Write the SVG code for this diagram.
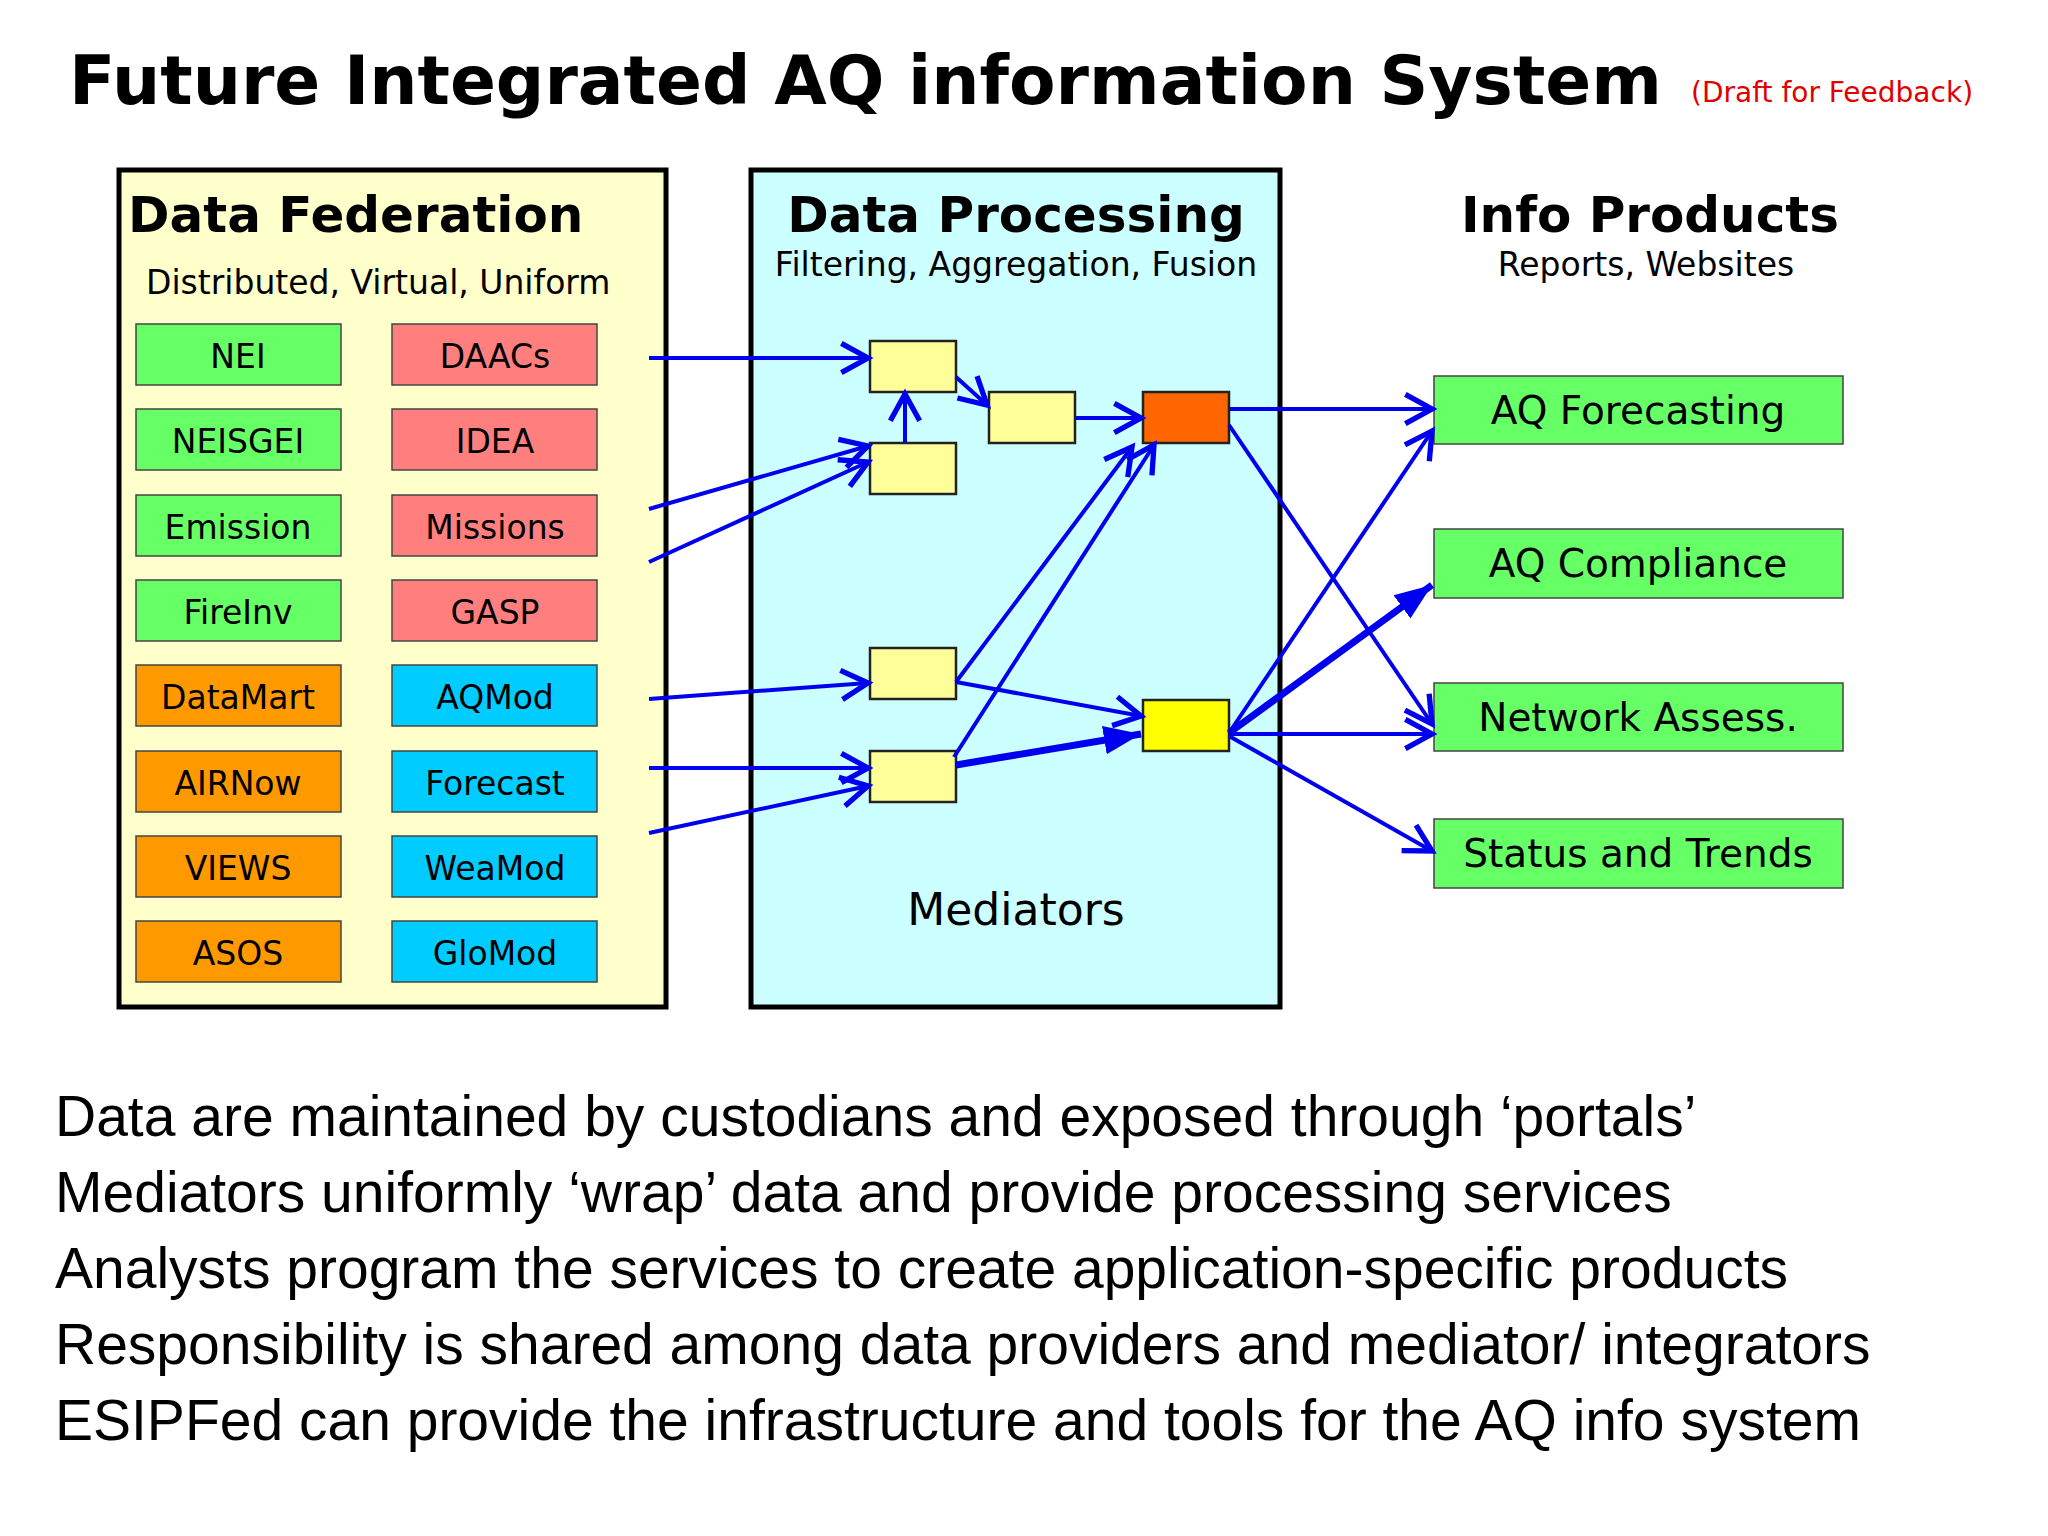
<svg xmlns="http://www.w3.org/2000/svg" width="2048" height="1536" viewBox="0 0 2048 1536">
<style>
.h{font-family:"DejaVu Sans",Verdana,sans-serif;font-weight:bold;fill:#000}
.s{font-family:"DejaVu Sans",Verdana,sans-serif;fill:#000}
.n{stroke:#444;stroke-width:1.5}
.g{fill:#66FF66}.r{fill:#FF7F7F}.o{fill:#FF9900}.c{fill:#00CCFF}
.lbl{font-family:"DejaVu Sans",Verdana,sans-serif;font-size:33px;text-anchor:middle;fill:#000}
.out{font-family:"DejaVu Sans",Verdana,sans-serif;font-size:39px;text-anchor:middle;fill:#000}
.m{fill:#FFFF99;stroke:#222;stroke-width:2.5}
.a{stroke:#0000EE;stroke-width:4;fill:none;marker-end:url(#op)}
.t{stroke:#0000EE;stroke-width:7;fill:none;marker-end:url(#fl)}
.b{font-family:"Liberation Sans",Arial,sans-serif;font-size:57px;fill:#000}
</style>
<defs>
<marker id="op" markerUnits="userSpaceOnUse" markerWidth="40" markerHeight="40" refX="24" refY="14" orient="auto" viewBox="0 0 30 28"><path d="M4,3 L24,14 L4,25" fill="none" stroke="#0000EE" stroke-width="4"/></marker>
<marker id="fl" markerUnits="userSpaceOnUse" markerWidth="40" markerHeight="40" refX="26" refY="12" orient="auto" viewBox="0 0 28 24"><path d="M0,2 L26,12 L0,22 Z" fill="#0000EE"/></marker>
</defs>
<rect width="2048" height="1536" fill="#fff"/>
<text class="h" x="69" y="104" font-size="68" textLength="1593" lengthAdjust="spacingAndGlyphs">Future Integrated AQ information System</text>
<text x="1691" y="102" font-family="DejaVu Sans,Verdana,sans-serif" font-size="28" fill="#E00000">(Draft for Feedback)</text>
<g id="federation">
<rect x="119" y="170" width="547" height="837" fill="#FFFFCC" stroke="#000" stroke-width="5"/>
<text class="h" x="128" y="232" font-size="50">Data Federation</text>
<text class="s" x="146" y="294" font-size="33">Distributed, Virtual, Uniform</text>
</g>
<g id="n-nei"><rect class="n g" x="136" y="324" width="205" height="61"/><text class="lbl" x="238" y="368">NEI</text></g>
<g id="n-neisgei"><rect class="n g" x="136" y="409" width="205" height="61"/><text class="lbl" x="238" y="453">NEISGEI</text></g>
<g id="n-emission"><rect class="n g" x="136" y="495" width="205" height="61"/><text class="lbl" x="238" y="539">Emission</text></g>
<g id="n-fireinv"><rect class="n g" x="136" y="580" width="205" height="61"/><text class="lbl" x="238" y="624">FireInv</text></g>
<g id="n-datamart"><rect class="n o" x="136" y="665" width="205" height="61"/><text class="lbl" x="238" y="709">DataMart</text></g>
<g id="n-airnow"><rect class="n o" x="136" y="751" width="205" height="61"/><text class="lbl" x="238" y="795">AIRNow</text></g>
<g id="n-views"><rect class="n o" x="136" y="836" width="205" height="61"/><text class="lbl" x="238" y="880">VIEWS</text></g>
<g id="n-asos"><rect class="n o" x="136" y="921" width="205" height="61"/><text class="lbl" x="238" y="965">ASOS</text></g>
<g id="n-daacs"><rect class="n r" x="392" y="324" width="205" height="61"/><text class="lbl" x="495" y="368">DAACs</text></g>
<g id="n-idea"><rect class="n r" x="392" y="409" width="205" height="61"/><text class="lbl" x="495" y="453">IDEA</text></g>
<g id="n-missions"><rect class="n r" x="392" y="495" width="205" height="61"/><text class="lbl" x="495" y="539">Missions</text></g>
<g id="n-gasp"><rect class="n r" x="392" y="580" width="205" height="61"/><text class="lbl" x="495" y="624">GASP</text></g>
<g id="n-aqmod"><rect class="n c" x="392" y="665" width="205" height="61"/><text class="lbl" x="495" y="709">AQMod</text></g>
<g id="n-forecast"><rect class="n c" x="392" y="751" width="205" height="61"/><text class="lbl" x="495" y="795">Forecast</text></g>
<g id="n-weamod"><rect class="n c" x="392" y="836" width="205" height="61"/><text class="lbl" x="495" y="880">WeaMod</text></g>
<g id="n-glomod"><rect class="n c" x="392" y="921" width="205" height="61"/><text class="lbl" x="495" y="965">GloMod</text></g>
<g id="processing">
<rect x="751" y="170" width="529" height="837" fill="#CCFFFF" stroke="#000" stroke-width="5"/>
<text class="h" x="1016" y="232" font-size="50" text-anchor="middle">Data Processing</text>
<text class="s" x="1016" y="276" font-size="33" text-anchor="middle">Filtering, Aggregation, Fusion</text>
<text class="s" x="1016" y="925" font-size="44" text-anchor="middle">Mediators</text>
</g>
<g id="products">
<text class="h" x="1650" y="232" font-size="50" text-anchor="middle">Info Products</text>
<text class="s" x="1646" y="276" font-size="33" text-anchor="middle">Reports, Websites</text>
</g>
<g id="m-a"><rect class="m" x="870" y="341" width="86" height="51"/></g>
<g id="m-b"><rect class="m" x="870" y="443" width="86" height="51"/></g>
<g id="m-c"><rect class="m" x="989" y="392" width="86" height="51"/></g>
<g id="m-d"><rect class="m" x="1143" y="392" width="86" height="51" style="fill:#FF6600"/></g>
<g id="m-e"><rect class="m" x="870" y="648" width="86" height="51"/></g>
<g id="m-f"><rect class="m" x="870" y="751" width="86" height="51"/></g>
<g id="m-g"><rect class="m" x="1143" y="700" width="86" height="51" style="fill:#FFFF00"/></g>
<g id="o-fc"><rect class="n g" x="1434" y="376" width="409" height="68"/><text class="out" x="1638" y="424">AQ Forecasting</text></g>
<g id="o-comp"><rect class="n g" x="1434" y="529" width="409" height="69"/><text class="out" x="1638" y="577">AQ Compliance</text></g>
<g id="o-net"><rect class="n g" x="1434" y="683" width="409" height="68"/><text class="out" x="1638" y="731">Network Assess.</text></g>
<g id="o-st"><rect class="n g" x="1434" y="819" width="409" height="69"/><text class="out" x="1638" y="867">Status and Trends</text></g>
<g id="connectors">
<path class="a" d="M649,358 L868,358"/>
<path class="a" d="M649,509 L868,446"/>
<path class="a" d="M649,562 L868,462"/>
<path class="a" d="M905,443 L905,394"/>
<path class="a" d="M956,377 L987,405"/>
<path class="a" d="M1076,418 L1141,418"/>
<path class="a" d="M956,682 L1132,447"/>
<path class="a" d="M954,757 L1154,445"/>
<path class="a" d="M956,682 L1141,716"/>
<path class="t" d="M956,765 L1141,734"/>
<path class="a" d="M649,699 L868,683"/>
<path class="a" d="M649,768 L868,768"/>
<path class="a" d="M649,833 L868,786"/>
<path class="a" d="M1229,409 L1432,409"/>
<path class="a" d="M1229,425 L1432,724"/>
<path class="a" d="M1229,733 L1432,431"/>
<path class="t" d="M1229,733 L1432,585"/>
<path class="a" d="M1229,734 L1432,734"/>
<path class="a" d="M1229,736 L1432,851"/>
</g>
<g id="notes">
<text class="b" x="55" y="1136">Data are maintained by custodians and exposed through ‘portals’</text>
<text class="b" x="55" y="1212">Mediators uniformly ‘wrap’ data and provide processing services</text>
<text class="b" x="55" y="1288">Analysts program the services to create application-specific products</text>
<text class="b" x="55" y="1364">Responsibility is shared among data providers and mediator/ integrators</text>
<text class="b" x="55" y="1440">ESIPFed can provide the infrastructure and tools for the AQ info system</text>
</g>
</svg>
